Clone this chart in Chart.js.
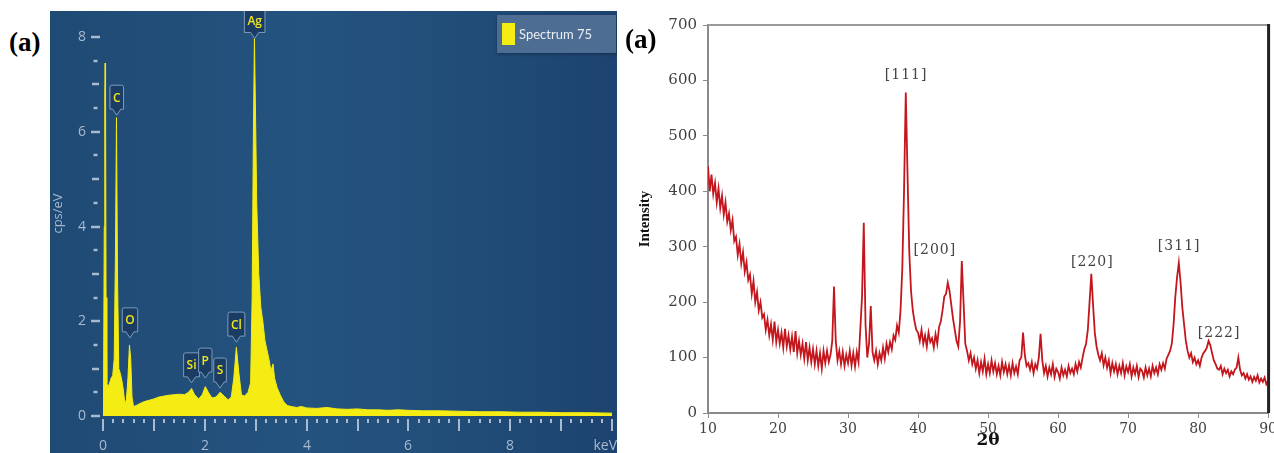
<!DOCTYPE html>
<html>
<head>
<meta charset="utf-8">
<script src="https://cdn.jsdelivr.net/npm/chart.js@4.4.0/dist/chart.umd.min.js"></script>
<style>
  html, body { margin: 0; padding: 0; width: 1274px; height: 453px; overflow: hidden; background: #fff; }
  .tag { position: absolute; font-family: "Liberation Serif", serif; font-weight: bold; font-size: 27px; line-height: 30px; color: #000; z-index: 5; }
  #edsBox { position: absolute; left: 50px; top: 11px; width: 567px; height: 442px; overflow: hidden;
    background: linear-gradient(90deg, #1f4a74 0%, #24537f 45%, #214c78 75%, #1d4370 100%); }
  #edsLegend { position: absolute; left: 447px; top: 4px; width: 119px; height: 38px; background: #4e6d92;
    box-shadow: 0 1px 3px rgba(0,0,0,0.35); }
  #edsLegend .sw { position: absolute; left: 5px; top: 8px; width: 13px; height: 22px; background: #f4ec12; }
  #edsLegend .txt { position: absolute; left: 22px; top: 0; line-height: 38px; font-family: Lato, sans-serif; font-size: 13px; color: #e8edf3; }
  #xrdBox { position: absolute; left: 620px; top: 0; width: 660px; height: 453px; }
</style>
</head>
<body>
<div class="tag" style="left:9px; top:27px;">(a)</div>
<div class="tag" style="left:625px; top:24px;">(a)</div>

<div id="edsBox">
  <canvas id="eds" width="567" height="442"></canvas>
  <div id="edsLegend"><div class="sw"></div><div class="txt" id="edsLegendText"></div></div>
</div>
<div id="xrdBox"><canvas id="xrd" width="660" height="453"></canvas></div>

<script>
// ---- EDS spectrum (left) ----
const edsName = 'Spectrum 75';
const edsEnergy = [0.00, 0.01, 0.025, 0.035, 0.042, 0.05, 0.06, 0.075, 0.10, 0.13, 0.16, 0.19, 0.22, 0.245, 0.265, 0.285,
  0.31, 0.34, 0.37, 0.40, 0.43, 0.46, 0.49, 0.52, 0.545, 0.57, 0.60, 0.65, 0.70, 0.80, 0.90, 1.00, 1.10, 1.20, 1.30,
  1.40, 1.50, 1.60, 1.68, 1.74, 1.80, 1.88, 1.95, 2.01, 2.07, 2.14, 2.22, 2.30, 2.38, 2.46, 2.52, 2.57, 2.62, 2.67,
  2.72, 2.78, 2.85, 2.90, 2.93, 2.955, 2.975, 2.995, 3.02, 3.06, 3.10, 3.14, 3.18, 3.22, 3.26, 3.30, 3.34, 3.37,
  3.42, 3.48, 3.55, 3.62, 3.70, 3.80, 3.90, 4.00, 4.20, 4.40, 4.60, 4.80, 5.00, 5.20, 5.40, 5.60, 5.80, 6.00, 6.30,
  6.60, 7.00, 7.40, 7.80, 8.20, 8.60, 9.00, 9.50, 10.0];
const edsCounts = [0, 0.3, 4.0, 6.8, 7.45, 6.9, 2.5, 0.7, 0.6, 0.7, 0.8, 0.85, 1.2, 3.5, 6.3, 3.0,
  1.0, 0.9, 0.75, 0.55, 0.25, 0.35, 0.8, 1.5, 1.2, 0.4, 0.2, 0.22, 0.25, 0.3, 0.33, 0.36, 0.4, 0.42, 0.44,
  0.45, 0.46, 0.45, 0.5, 0.58, 0.45, 0.36, 0.45, 0.62, 0.5, 0.38, 0.4, 0.5, 0.42, 0.34, 0.4, 0.8, 1.45, 0.9,
  0.45, 0.42, 0.5, 0.7, 2.5, 6.0, 7.97, 6.5, 4.5, 3.0, 2.3, 2.0, 1.6, 1.4, 1.2, 0.95, 1.1, 0.8,
  0.6, 0.45, 0.3, 0.22, 0.2, 0.18, 0.2, 0.17, 0.16, 0.18, 0.15, 0.14, 0.15, 0.13, 0.13, 0.12, 0.13, 0.12, 0.11,
  0.11, 0.1, 0.09, 0.09, 0.08, 0.08, 0.07, 0.07, 0.06];
const edsPeakNames = ['C', 'O', 'Si', 'P', 'S', 'Cl', 'Ag'];
const edsPeakEnergy = [0.27, 0.53, 1.74, 2.01, 2.30, 2.62, 2.98];
const edsPeakTip = [6.35, 1.65, 0.70, 0.80, 0.59, 1.56, 7.97];

// ---- XRD pattern (right) ----
const xrdStart = 10, xrdStep = 0.25;
const xrdIntensity = [
  445, 400, 430, 395,   // 10
  415, 380, 405, 370,   // 11
  392, 358, 380, 345,   // 12
  360, 330, 348, 310,   // 13
  318, 285, 305, 270,   // 14
  290, 255, 272, 240,   // 15
  250, 215, 238, 200,   // 16
  218, 185, 200, 172,   // 17
  178, 150, 168, 140,   // 18
  160, 132, 165, 128,   // 19
  150, 125, 145, 118,   // 20
  152, 120, 140, 115,   // 21
  138, 110, 148, 108,   // 22
  130, 105, 125, 98,    // 23
  128, 95, 118, 92,     // 24
  115, 88, 112, 85,     // 25
  108, 80, 112, 90,     // 26
  112, 92, 105, 130,    // 27
  228, 130, 95, 112,    // 28
  88, 110, 85, 105,     // 29
  90, 112, 86, 108,     // 30
  84, 110, 92, 150,     // 31
  210, 343, 160, 100,   // 32
  125, 193, 110, 95,    // 33
  112, 88, 108, 95,     // 34
  118, 98, 125, 110,    // 35
  128, 115, 140, 132,   // 36
  158, 145, 185, 260,   // 37
  400, 578, 430, 290,   // 38
  220, 185, 165, 150,   // 39
  145, 130, 150, 125,   // 40
  140, 120, 145, 128,   // 41
  135, 118, 142, 125,   // 42
  155, 165, 185, 210,   // 43
  215, 235, 220, 195,   // 44
  170, 150, 130, 120,   // 45
  165, 274, 200, 125,   // 46
  112, 95, 108, 88,     // 47
  100, 80, 95, 72,      // 48
  92, 75, 98, 70,       // 49
  88, 72, 95, 75,       // 50
  90, 70, 85, 68,       // 51
  92, 74, 88, 70,       // 52
  86, 68, 90, 72,       // 53
  84, 70, 95, 100,      // 54
  145, 105, 85, 90,     // 55
  78, 92, 72, 88,       // 56
  80, 100, 143, 95,     // 57
  72, 85, 66, 82,       // 58
  70, 88, 65, 80,       // 59
  74, 62, 82, 68,       // 60
  78, 66, 85, 72,       // 61
  80, 70, 88, 75,       // 62
  92, 82, 100, 115,     // 63
  125, 150, 200, 251,   // 64
  195, 145, 120, 105,   // 65
  95, 108, 86, 100,     // 66
  82, 95, 72, 90,       // 67
  75, 88, 70, 85,       // 68
  72, 90, 68, 84,       // 69
  74, 88, 66, 82,       // 70
  70, 85, 65, 80,       // 71
  76, 64, 82, 68,       // 72
  80, 66, 85, 72,       // 73
  82, 70, 88, 78,       // 74
  90, 80, 98, 105,      // 75
  112, 125, 160, 210,   // 76
  245, 271, 235, 190,   // 77
  160, 130, 112, 100,   // 78
  108, 92, 100, 88,     // 79
  95, 85, 100, 108,     // 80
  112, 118, 130, 122,   // 81
  108, 95, 88, 80,      // 82
  78, 85, 70, 80,       // 83
  72, 78, 66, 75,       // 84
  70, 78, 82, 100,      // 85
  78, 68, 72, 62,       // 86
  70, 60, 66, 56,       // 87
  65, 58, 68, 55,       // 88
  62, 56, 64, 52,       // 89
  58                    // 90
];
const xrdPeakLabels = ['[111]', '[200]', '[220]', '[311]', '[222]'];
const xrdPeakAngle = [38.3, 42.4, 64.9, 77.3, 83.0];
const xrdPeakLabelY = [610, 294, 272, 300, 144];

// ---------------- EDS chart ----------------
document.getElementById('edsLegendText').textContent = edsName;

const edsAxisColor = '#a7bad0';
const edsAxes = {
  id: 'edsAxes',
  beforeDatasetsDraw(chart) {
    const ctx = chart.ctx;
    const xs = chart.scales.x, ys = chart.scales.y;
    const area = chart.chartArea;
    ctx.save();
    ctx.strokeStyle = edsAxisColor;
    ctx.fillStyle = edsAxisColor;
    ctx.lineCap = 'butt';
    ctx.font = '14px "Open Sans", sans-serif';
    // y ticks
    ctx.textAlign = 'center';
    ctx.textBaseline = 'middle';
    const cx = area.left - 7.5;
    ys.ticks.forEach(t => {
      const v = t.value;
      if (Math.abs(v * 2 - Math.round(v * 2)) > 1e-6) return;
      const y = Math.round(ys.getPixelForValue(v));
      let half = 2;
      if (Math.abs(v % 2) < 1e-6) half = 4.5;
      else if (Math.abs(v - Math.round(v)) < 1e-6) half = 3.5;
      ctx.lineWidth = 2.5;
      ctx.beginPath();
      ctx.moveTo(cx - half, y);
      ctx.lineTo(cx + half, y);
      ctx.stroke();
      if (Math.abs(v % 2) < 1e-6) ctx.fillText(String(v), area.left - 21, y);
    });
    // x ticks
    const top = area.bottom + 3;
    xs.ticks.forEach(t => {
      const v = t.value;
      const x = Math.round(xs.getPixelForValue(v));
      const isInt = Math.abs(v - Math.round(v)) < 1e-6;
      ctx.lineWidth = 2;
      ctx.beginPath();
      ctx.moveTo(x, top);
      ctx.lineTo(x, top + (isInt ? 12 : 4));
      ctx.stroke();
      if (isInt && Math.round(v) % 2 === 0) {
        if (Math.round(v) === 10) {
          ctx.textAlign = 'right';
          ctx.fillText('keV', x + 5, area.bottom + 30);
        } else {
          ctx.textAlign = 'center';
          ctx.fillText(String(Math.round(v)), x, area.bottom + 30);
        }
      }
    });
    // y title
    ctx.save();
    ctx.translate(8, (area.top + area.bottom) / 2);
    ctx.rotate(-Math.PI / 2);
    ctx.textAlign = 'center';
    ctx.font = '13px "Open Sans", sans-serif';
    ctx.fillText('cps/eV', 0, 0);
    ctx.restore();
    ctx.restore();
  },
  afterDatasetsDraw(chart) {
    const ctx = chart.ctx;
    const xs = chart.scales.x, ys = chart.scales.y;
    ctx.save();
    ctx.font = '600 12px "Open Sans", sans-serif';
    ctx.textAlign = 'center';
    ctx.textBaseline = 'middle';
    edsPeakNames.forEach((name, i) => {
      const px = xs.getPixelForValue(edsPeakEnergy[i]);
      const py = ys.getPixelForValue(edsPeakTip[i]);
      const w = Math.max(12, ctx.measureText(name).width + 6);
      const h = 24, p = 6;
      const l = px - w / 2, r = px + w / 2, b = py - p, t = b - h;
      ctx.beginPath();
      ctx.moveTo(l + 2, t);
      ctx.lineTo(r - 2, t);
      ctx.quadraticCurveTo(r, t, r, t + 2);
      ctx.lineTo(r, b);
      ctx.lineTo(px + 4, b);
      ctx.lineTo(px, py);
      ctx.lineTo(px - 4, b);
      ctx.lineTo(l, b);
      ctx.lineTo(l, t + 2);
      ctx.quadraticCurveTo(l, t, l + 2, t);
      ctx.closePath();
      ctx.fillStyle = '#1c3d63';
      ctx.fill();
      ctx.strokeStyle = '#7d9bbd';
      ctx.lineWidth = 1;
      ctx.stroke();
      ctx.fillStyle = '#efe51c';
      ctx.fillText(name, px, (t + b) / 2 + 1);
    });
    ctx.restore();
  }
};

new Chart(document.getElementById('eds').getContext('2d'), {
  type: 'line',
  data: {
    datasets: [{
      label: edsName,
      data: edsEnergy.map((e, i) => ({ x: e, y: edsCounts[i] })),
      borderColor: '#f4ec12',
      backgroundColor: '#f4ec12',
      borderWidth: 1,
      pointRadius: 0,
      tension: 0,
      fill: 'origin'
    }]
  },
  options: {
    responsive: false,
    animation: false,
    layout: { padding: { left: 53, top: 0, right: 5, bottom: 37 } },
    plugins: { legend: { display: false }, tooltip: { enabled: false } },
    scales: {
      x: {
        type: 'linear', min: 0, max: 10,
        ticks: { display: false, stepSize: 0.2 },
        grid: { display: false, drawTicks: false },
        border: { display: false }
      },
      y: {
        min: 0, max: 8.55,
        ticks: { display: false, stepSize: 0.5 },
        grid: { display: false, drawTicks: false },
        border: { display: false }
      }
    }
  },
  plugins: [edsAxes]
});

// ---------------- XRD chart ----------------
const xrdExtras = {
  id: 'xrdExtras',
  afterDraw(chart) {
    const ctx = chart.ctx;
    const a = chart.chartArea;
    const xs = chart.scales.x, ys = chart.scales.y;
    ctx.save();
    ctx.strokeStyle = '#9a9a9a';
    ctx.lineWidth = 2;
    ctx.beginPath();
    ctx.moveTo(a.left, a.top);
    ctx.lineTo(a.right, a.top);
    ctx.stroke();
    ctx.strokeStyle = '#222';
    ctx.lineWidth = 3;
    ctx.beginPath();
    ctx.moveTo(a.right + 0.5, a.top - 1);
    ctx.lineTo(a.right + 0.5, a.bottom);
    ctx.stroke();
    ctx.font = '14px "DejaVu Serif", serif';
    ctx.letterSpacing = '1px';
    ctx.fillStyle = '#444';
    ctx.textAlign = 'center';
    ctx.textBaseline = 'middle';
    xrdPeakLabels.forEach((s, i) => {
      ctx.fillText(s, xs.getPixelForValue(xrdPeakAngle[i]), ys.getPixelForValue(xrdPeakLabelY[i]));
    });
    ctx.restore();
  }
};

new Chart(document.getElementById('xrd').getContext('2d'), {
  type: 'line',
  data: {
    datasets: [{
      data: xrdIntensity.map((v, i) => ({ x: xrdStart + i * xrdStep, y: v })),
      borderColor: '#c4161d',
      borderWidth: 1.8,
      pointRadius: 0,
      tension: 0,
      fill: false
    }]
  },
  options: {
    responsive: false,
    animation: false,
    layout: { padding: { left: 12, top: 25, right: 0, bottom: 0 } },
    plugins: { legend: { display: false }, tooltip: { enabled: false } },
    scales: {
      x: {
        type: 'linear', min: 10, max: 90,
        afterFit: s => { s.height = 40; },
        ticks: { stepSize: 10, color: '#404040', padding: 3, maxRotation: 0,
          font: { family: '"DejaVu Serif", serif', size: 14 } },
        grid: { drawOnChartArea: false, color: '#8a8a8a', tickLength: 5 },
        border: { color: '#8a8a8a', width: 2 },
        title: { display: true, text: '2θ', color: '#111', padding: { top: 4, bottom: 2 },
          font: { family: '"DejaVu Serif", serif', size: 17, weight: 'bold' } }
      },
      y: {
        min: 0, max: 700,
        afterFit: s => { s.width = 76; },
        ticks: { stepSize: 100, color: '#404040', padding: 6,
          font: { family: '"DejaVu Serif", serif', size: 15 } },
        grid: { drawOnChartArea: false, color: '#8a8a8a', tickLength: 5 },
        border: { color: '#8a8a8a', width: 2 },
        title: { display: true, text: 'Intensity', color: '#111',
          font: { family: '"Liberation Serif", serif', size: 15, weight: 'bold' } }
      }
    }
  },
  plugins: [xrdExtras]
});
</script>
</body>
</html>
